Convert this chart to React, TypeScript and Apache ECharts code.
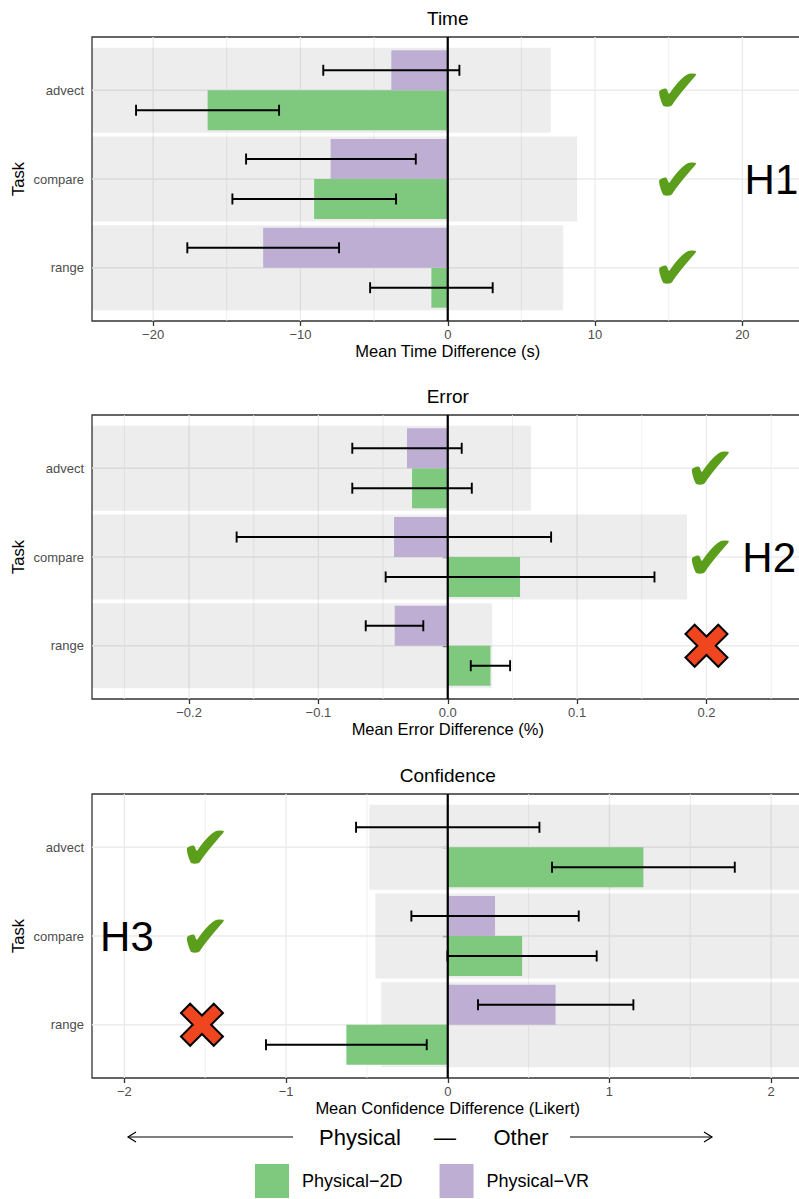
import React, { useEffect, useRef } from 'react';
import * as echarts from 'echarts';

const FONT = '"Liberation Sans", Arial, Helvetica, sans-serif';
const GREEN = '#7FC97F';
const PURPLE = '#BEAED4';
const CHECK = '#5B9E1B';
const CROSS = '#F04620';

const tasks = ['advect', 'compare', 'range'];
const groups = ['Physical−2D', 'Physical−VR'];

// ---- Time ----
const timeTicks = [-20, -10, 0, 10, 20];
const timeMinor = [-15, -5, 5, 15];
const time2D = [-16.3, -9.07, -1.11];
const time2DLo = [-21.16, -14.62, -5.27];
const time2DHi = [-11.45, -3.51, 3.05];
const timeVR = [-3.83, -7.95, -12.53];
const timeVRLo = [-8.45, -13.69, -17.68];
const timeVRHi = [0.79, -2.17, -7.38];
const timeShadeFrom = [null, null, null];
const timeShadeTo = [7.0, 8.78, 7.84];
const timeMarks = [
  { kind: 'check', x: 15.6, task: 'advect' },
  { kind: 'check', x: 15.6, task: 'compare' },
  { kind: 'check', x: 15.6, task: 'range' },
  { kind: 'label', text: 'H1', x: 20.15, task: 'compare' },
];

// ---- Error ----
const errTicks = [-0.2, -0.1, 0, 0.1, 0.2];
const errMinor = [-0.25, -0.15, -0.05, 0.05, 0.15, 0.25];
const err2D = [-0.0276, 0.0559, 0.033];
const err2DLo = [-0.0738, -0.048, 0.0178];
const err2DHi = [0.0186, 0.1598, 0.0482];
const errVR = [-0.0315, -0.0415, -0.041];
const errVRLo = [-0.0738, -0.1632, -0.0634];
const errVRHi = [0.0108, 0.0799, -0.0189];
const errShadeFrom = [null, null, null];
const errShadeTo = [0.0644, 0.185, 0.0343];
const errMarks = [
  { kind: 'check', x: 0.203, task: 'advect' },
  { kind: 'check', x: 0.203, task: 'compare' },
  { kind: 'cross', x: 0.2, task: 'range' },
  { kind: 'label', text: 'H2', x: 0.2277, task: 'compare' },
];

// ---- Confidence ----
const confTicks = [-2, -1, 0, 1, 2];
const confMinor = [-1.5, -0.5, 0.5, 1.5];
const conf2D = [1.21, 0.46, -0.627];
const conf2DLo = [0.645, -0.002, -1.124];
const conf2DHi = [1.775, 0.921, -0.13];
const confVR = [0, 0.2925, 0.667];
const confVRLo = [-0.567, -0.225, 0.187];
const confVRHi = [0.567, 0.81, 1.148];
const confShadeFrom = [-0.485, -0.448, -0.412];
const confShadeTo = [null, null, null];
const confMarks = [
  { kind: 'check', x: -1.5, task: 'advect' },
  { kind: 'check', x: -1.5, task: 'compare' },
  { kind: 'cross', x: -1.52, task: 'range' },
  { kind: 'label', text: 'H3', x: -2.15, task: 'compare' },
];

const panels = [
  {
    title: 'Time', xName: 'Mean Time Difference (s)', min: -24.15, max: 24.15, dec: 0,
    ticks: timeTicks, minor: timeMinor,
    v2d: time2D, lo2d: time2DLo, hi2d: time2DHi, vvr: timeVR, lovr: timeVRLo, hivr: timeVRHi,
    shadeFrom: timeShadeFrom, shadeTo: timeShadeTo, marks: timeMarks, top: 37,
  },
  {
    title: 'Error', xName: 'Mean Error Difference (%)', min: -0.275, max: 0.275, dec: 1,
    ticks: errTicks, minor: errMinor,
    v2d: err2D, lo2d: err2DLo, hi2d: err2DHi, vvr: errVR, lovr: errVRLo, hivr: errVRHi,
    shadeFrom: errShadeFrom, shadeTo: errShadeTo, marks: errMarks, top: 415,
  },
  {
    title: 'Confidence', xName: 'Mean Confidence Difference (Likert)', min: -2.2, max: 2.2, dec: 0,
    ticks: confTicks, minor: confMinor,
    v2d: conf2D, lo2d: conf2DLo, hi2d: conf2DHi, vvr: confVR, lovr: confVRLo, hivr: confVRHi,
    shadeFrom: confShadeFrom, shadeTo: confShadeTo, marks: confMarks, top: 794,
  },
];

const PANEL_H = 284;
const LEFT = 92;
const CAP = 0.062;
const taskPos = (i: number) => tasks.length - i;

const fmt = (dec: number) => (v: number) => {
  const s = Math.abs(v).toFixed(dec);
  return v < -1e-9 ? '−' + s : s;
};

function rectFrom(api: any, x0: number, x1: number, yA: number, yB: number) {
  const a = api.coord([x0, yA]);
  const b = api.coord([x1, yB]);
  return {
    x: Math.min(a[0], b[0]),
    y: Math.min(a[1], b[1]),
    width: Math.abs(b[0] - a[0]),
    height: Math.abs(b[1] - a[1]),
  };
}

function ln(x1: number, y1: number, x2: number, y2: number, w: number) {
  return { type: 'line', shape: { x1, y1, x2, y2 }, style: { stroke: '#000', lineWidth: w } };
}

function crossPoints(cx: number, cy: number, s: number, t: number) {
  const L = s * Math.SQRT2 - t;
  const plus = [
    [t, -L], [t, -t], [L, -t], [L, t], [t, t], [t, L],
    [-t, L], [-t, t], [-L, t], [-L, -t], [-t, -t], [-t, -L],
  ];
  return plus.map(([x, y]) => [cx + (x - y) / Math.SQRT2, cy + (x + y) / Math.SQRT2]);
}

function buildOption() {
  const grid: any[] = [];
  const xAxis: any[] = [];
  const yAxis: any[] = [];
  const series: any[] = [];
  const graphic: any[] = [];

  panels.forEach((p, i) => {
    grid.push({
      left: LEFT, right: -4.5, top: p.top, height: PANEL_H,
      show: true, borderColor: '#333333', borderWidth: 1.3, backgroundColor: 'rgba(0,0,0,0)',
      containLabel: false, outerBoundsMode: 'none',
    });
    xAxis.push({
      gridIndex: i, type: 'value', min: p.min, max: p.max,
      axisLine: { show: false }, splitLine: { show: false },
      axisTick: { show: true, customValues: p.ticks, length: 5, lineStyle: { color: '#333333', width: 1.3 } },
      axisLabel: { customValues: p.ticks, formatter: fmt(p.dec), color: '#4D4D4D', fontSize: 13, margin: 7, fontFamily: FONT },
    });
    yAxis.push({
      gridIndex: i, type: 'value', min: 0.4, max: 3.6,
      axisLine: { show: false }, splitLine: { show: false },
      axisTick: { show: true, customValues: [1, 2, 3], length: 5, lineStyle: { color: '#333333', width: 1.3 } },
      axisLabel: {
        customValues: [1, 2, 3],
        formatter: (v: number) => tasks[tasks.length - Math.round(v)] ?? '',
        color: '#4D4D4D', fontSize: 13, margin: 8, fontFamily: FONT,
      },
    });

    // grid lines
    const gl: any[] = [];
    p.ticks.forEach((v) => gl.push([v, 2, 0]));
    p.minor.forEach((v) => gl.push([v, 2, 1]));
    tasks.forEach((_, k) => gl.push([0, taskPos(k), 2]));
    series.push({
      type: 'custom', name: 'grid' + i, xAxisIndex: i, yAxisIndex: i, z: 1, silent: true,
      data: gl,
      renderItem: (params: any, api: any) => {
        const cs = params.coordSys;
        const kind = api.value(2);
        if (kind === 2) {
          const pt = api.coord([0, api.value(1)]);
          return { type: 'line', shape: { x1: cs.x, y1: pt[1], x2: cs.x + cs.width, y2: pt[1] }, style: { stroke: '#EBEBEB', lineWidth: 1.3 } };
        }
        const pt = api.coord([api.value(0), 2]);
        return {
          type: 'line', shape: { x1: pt[0], y1: cs.y, x2: pt[0], y2: cs.y + cs.height },
          style: { stroke: '#EBEBEB', lineWidth: kind === 0 ? 1.3 : 0.8 },
        };
      },
    });

    // shaded bands
    series.push({
      type: 'custom', name: 'shade' + i, xAxisIndex: i, yAxisIndex: i, z: 2, silent: true,
      data: tasks.map((_, k) => [p.shadeFrom[k] ?? p.min, taskPos(k), p.shadeTo[k] ?? p.max]),
      renderItem: (params: any, api: any) => {
        const y = api.value(1);
        return {
          type: 'rect', shape: rectFrom(api, api.value(0), api.value(2), y + 0.48, y - 0.48),
          style: { fill: 'rgba(0,0,0,0.07)' },
        };
      },
    });

    // bars + error bars
    const sets = [
      { name: groups[0], color: GREEN, off: -0.225, v: p.v2d, lo: p.lo2d, hi: p.hi2d },
      { name: groups[1], color: PURPLE, off: 0.225, v: p.vvr, lo: p.lovr, hi: p.hivr },
    ];
    sets.forEach((s) => {
      series.push({
        type: 'custom', name: s.name, xAxisIndex: i, yAxisIndex: i, z: 3,
        itemStyle: { color: s.color },
        data: s.v.map((v, k) => [v, taskPos(k), s.lo[k], s.hi[k]]),
        renderItem: (params: any, api: any) => {
          const v = api.value(0);
          const y = api.value(1) + s.off;
          const lo = api.value(2);
          const hi = api.value(3);
          const children: any[] = [];
          if (v !== 0) {
            children.push({
              type: 'rect', shape: rectFrom(api, Math.min(0, v), Math.max(0, v), y + 0.225, y - 0.225),
              style: { fill: s.color },
            });
          }
          const pl = api.coord([lo, y]);
          const ph = api.coord([hi, y]);
          const ct = api.coord([lo, y + CAP])[1];
          const cb = api.coord([lo, y - CAP])[1];
          children.push(ln(pl[0], pl[1], ph[0], ph[1], 1.9));
          children.push(ln(pl[0], ct, pl[0], cb, 1.9));
          children.push(ln(ph[0], ct, ph[0], cb, 1.9));
          return { type: 'group', children };
        },
      });
    });

    // zero line
    series.push({
      type: 'custom', name: 'zero' + i, xAxisIndex: i, yAxisIndex: i, z: 4, silent: true,
      data: [[0, 2]],
      renderItem: (params: any, api: any) => {
        const cs = params.coordSys;
        const pt = api.coord([0, 2]);
        return ln(pt[0], cs.y, pt[0], cs.y + cs.height, 2.2);
      },
    });

    // annotations
    series.push({
      type: 'custom', name: 'marks' + i, xAxisIndex: i, yAxisIndex: i, z: 5, silent: true,
      data: p.marks.map((m) => [m.x, taskPos(tasks.indexOf(m.task))]),
      renderItem: (params: any, api: any) => {
        const m: any = p.marks[params.dataIndex];
        const pt = api.coord([api.value(0), api.value(1)]);
        if (m.kind === 'check') {
          return {
            type: 'text', x: pt[0], y: pt[1],
            style: { text: '✔', fill: CHECK, fontSize: 61, fontFamily: '"DejaVu Sans"', align: 'center', verticalAlign: 'middle' },
          };
        }
        if (m.kind === 'cross') {
          return {
            type: 'polygon', shape: { points: crossPoints(pt[0], pt[1], 21, 6.5) },
            style: { fill: CROSS, stroke: '#000', lineWidth: 2, lineJoin: 'miter' },
          };
        }
        return {
          type: 'text', x: pt[0], y: pt[1],
          style: { text: m.text, fill: '#000', fontSize: 42, fontFamily: FONT, align: 'left', verticalAlign: 'middle' },
        };
      },
    });

    const cx = LEFT + (799 + 4.5 - LEFT) / 2;
    const txt = (text: string, x: number, y: number, size: number, extra: any = {}) => ({
      type: 'text', x, y, ...extra,
      style: { text, fontSize: size, fontFamily: FONT, fill: '#000', align: 'center', verticalAlign: 'middle' },
    });
    graphic.push(txt(p.title, cx, p.top - 19, 19));
    graphic.push(txt(p.xName, cx, p.top + PANEL_H + 30, 16.5));
    graphic.push(txt('Task', 18, p.top + PANEL_H / 2, 16.5, { rotation: Math.PI / 2 }));
  });

  // direction guide
  const dir = (text: string, x: number) => ({
    type: 'text', x, y: 1137,
    style: { text, fontSize: 22, fontFamily: FONT, fill: '#000', align: 'center', verticalAlign: 'middle' },
  });
  graphic.push(dir('Physical', 360));
  graphic.push(dir('—', 445));
  graphic.push(dir('Other', 521));
  const arrowStyle = { stroke: '#000', lineWidth: 1.2, fill: 'none' };
  graphic.push({ type: 'line', shape: { x1: 128, y1: 1137, x2: 293, y2: 1137 }, style: arrowStyle });
  graphic.push({ type: 'polyline', shape: { points: [[136, 1132], [128, 1137], [136, 1142]] }, style: arrowStyle });
  graphic.push({ type: 'line', shape: { x1: 570, y1: 1137, x2: 712, y2: 1137 }, style: arrowStyle });
  graphic.push({ type: 'polyline', shape: { points: [[704, 1132], [712, 1137], [704, 1142]] }, style: arrowStyle });

  return {
    animation: false,
    backgroundColor: '#ffffff',
    grid, xAxis, yAxis, series, graphic,
    legend: {
      data: groups, left: 255, top: 1164, padding: 0, itemWidth: 34, itemHeight: 34, itemGap: 37,
      icon: 'rect', selectedMode: false, orient: 'horizontal',
      textStyle: { fontSize: 18, color: '#000', fontFamily: FONT, padding: [0, 0, 0, 8] },
    },
  };
}

export default function App() {
  const ref = useRef<HTMLDivElement>(null);
  useEffect(() => {
    const chart = echarts.init(ref.current!, null, { renderer: 'svg' });
    chart.setOption(buildOption() as any);
    return () => chart.dispose();
  }, []);
  return (
    <div
      ref={ref}
      style={{ position: 'absolute', left: 0, top: 0, width: 799, height: 1199, background: '#fff' }}
    />
  );
}
